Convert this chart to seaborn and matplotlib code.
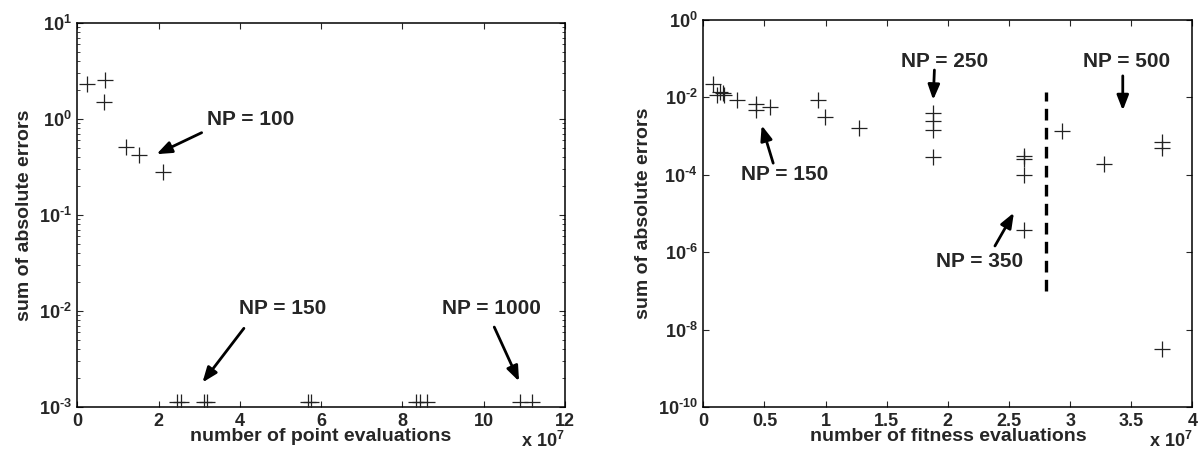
import numpy as np
import pandas as pd
import seaborn as sns
import matplotlib.pyplot as plt
from matplotlib.ticker import LogLocator, NullLocator, FixedLocator, FixedFormatter

# left panel: point evaluations (x in units of 1e7)
left_x = [0.25, 0.68, 0.65, 1.2, 1.53, 2.12,
          2.45, 2.54, 3.12, 3.18, 5.68, 5.74, 8.33, 8.43, 8.6, 10.89, 11.18]
left_y = [2.3, 2.55, 1.52, 0.51, 0.42, 0.28,
          1.13e-3, 1.13e-3, 1.13e-3, 1.13e-3, 1.13e-3, 1.13e-3,
          1.13e-3, 1.13e-3, 1.13e-3, 1.13e-3, 1.13e-3]

# right panel: fitness evaluations (x in units of 1e7)
right_x = [0.082, 0.109, 0.138, 0.164, 0.17, 0.273, 0.431, 0.431, 0.545, 0.94, 0.995, 1.27,
           1.876, 1.876, 1.876, 1.876,
           2.625, 2.625, 2.625, 2.625,
           2.93, 3.277, 3.75, 3.75, 3.75]
right_y = [0.022, 0.0115, 0.014, 0.013, 0.0118, 0.0086, 0.0068, 0.0046, 0.0057, 0.0086, 0.0032, 0.0016,
           0.0039, 0.0025, 0.00145, 2.9e-4,
           3.1e-4, 2.6e-4, 1.0e-4, 3.7e-6,
           1.35e-3, 1.87e-4, 7.2e-4, 4.8e-4, 3.1e-9]

# vertical dashed separator on the right panel
sep_x = [2.8, 2.8]
sep_y = [1e-7, 1.4e-2]

left_xticks = [0, 2, 4, 6, 8, 10, 12]
left_yticks = [1e-3, 1e-2, 1e-1, 1, 10]
left_ylabels = ["-3", "-2", "-1", "0", "1"]
right_xticks = [0, 0.5, 1, 1.5, 2, 2.5, 3, 3.5, 4]
right_xlabels = ["0", "0.5", "1", "1.5", "2", "2.5", "3", "3.5", "4"]
right_yticks = [1e-10, 1e-8, 1e-6, 1e-4, 1e-2, 1]
right_ylabels = ["-10", "-8", "-6", "-4", "-2", "0"]

sns.set_style("ticks")
plt.rcParams['font.family'] = ['Liberation Sans', 'DejaVu Sans']
plt.rcParams['font.weight'] = 'bold'
plt.rcParams['mathtext.fontset'] = 'custom'
plt.rcParams['mathtext.rm'] = 'Liberation Sans:bold'
plt.rcParams['mathtext.bf'] = 'Liberation Sans:bold'
plt.rcParams['mathtext.it'] = 'Liberation Sans:bold'
plt.rcParams['mathtext.default'] = 'bf'


def pow_labels(exps):
    return [r"$10^{\text{" + e + "}}$" for e in exps]


fig = plt.figure(figsize=(11.98, 4.59), dpi=100)
ax1 = fig.add_axes([0.0645, 0.1133, 0.4071, 0.8366])
ax2 = fig.add_axes([0.587, 0.1133, 0.4084, 0.8431])

df1 = pd.DataFrame({"x": left_x, "y": left_y})
df2 = pd.DataFrame({"x": right_x, "y": right_y})

for ax, df in [(ax1, df1), (ax2, df2)]:
    sns.scatterplot(data=df, x="x", y="y", ax=ax, marker="+", s=140,
                    color="#222222", linewidth=0.9, legend=False, zorder=3)
    ax.set_yscale("log")
    for sp in ax.spines.values():
        sp.set_visible(True)
        sp.set_linewidth(1.1)
        sp.set_color("black")
    ax.tick_params(direction="in", top=True, right=True, length=4, width=0.8,
                   labelsize=13, pad=4)
    ax.tick_params(which="minor", direction="in", left=True, right=True, length=2.5, width=0.6)
    ax.set_ylabel("sum of absolute errors", fontsize=14, fontweight="bold", labelpad=4)

# left panel axes
ax1.set_xlim(0, 12)
ax1.set_ylim(1e-3, 10)
ax1.set_xticks(left_xticks)
ax1.set_xticklabels([str(t) for t in left_xticks])
ax1.yaxis.set_major_locator(FixedLocator(left_yticks))
ax1.yaxis.set_major_formatter(FixedFormatter(pow_labels(left_ylabels)))
ax1.yaxis.set_minor_locator(LogLocator(base=10, subs=np.arange(2, 10)))
ax1.set_xlabel("number of point evaluations", fontsize=14, fontweight="bold", labelpad=-1)
ax1.text(1.0, -0.088, r"x 10$^{7}$", transform=ax1.transAxes, ha="right", va="center", fontsize=13)

# right panel axes
ax2.set_xlim(0, 4)
ax2.set_ylim(1e-10, 1)
ax2.set_xticks(right_xticks)
ax2.set_xticklabels(right_xlabels)
ax2.yaxis.set_major_locator(FixedLocator(right_yticks))
ax2.yaxis.set_major_formatter(FixedFormatter(pow_labels(right_ylabels)))
ax2.yaxis.set_minor_locator(NullLocator())
ax2.set_xlabel("number of fitness evaluations", fontsize=14, fontweight="bold", labelpad=-1)
ax2.text(1.0, -0.088, r"x 10$^{7}$", transform=ax2.transAxes, ha="right", va="center", fontsize=13)
ax2.plot(sep_x, sep_y, color="black", linestyle=(0, (3.5, 2.2)), linewidth=2.4, zorder=2)

arrow = dict(arrowstyle="-|>,head_length=0.9,head_width=0.35", lw=2, color="black",
             shrinkA=0, shrinkB=0)

# annotations, left
ax1.text(4.26, 0.98, "NP = 100", fontsize=15, fontweight="bold", ha="center", va="center")
ax1.annotate("", xy=(1.95, 0.43), xytext=(3.06, 0.72), arrowprops=arrow)
ax1.text(5.06, 0.0105, "NP = 150", fontsize=15, fontweight="bold", ha="center", va="center")
ax1.annotate("", xy=(3.08, 1.8e-3), xytext=(4.1, 0.0066), arrowprops=arrow)
ax1.text(10.18, 0.0105, "NP = 1000", fontsize=15, fontweight="bold", ha="center", va="center")
ax1.annotate("", xy=(10.87, 1.85e-3), xytext=(10.26, 0.0068), arrowprops=arrow)

# annotations, right
ax2.text(1.97, 0.083, "NP = 250", fontsize=15, fontweight="bold", ha="center", va="center")
ax2.annotate("", xy=(1.88, 0.0086), xytext=(1.89, 0.051), arrowprops=arrow)
ax2.text(3.46, 0.083, "NP = 500", fontsize=15, fontweight="bold", ha="center", va="center")
ax2.annotate("", xy=(3.43, 0.0046), xytext=(3.43, 0.036), arrowprops=arrow)
ax2.text(0.668, 1e-4, "NP = 150", fontsize=15, fontweight="bold", ha="center", va="center")
ax2.annotate("", xy=(0.478, 0.0019), xytext=(0.572, 2e-4), arrowprops=arrow)
ax2.text(2.26, 5.7e-7, "NP = 350", fontsize=15, fontweight="bold", ha="center", va="center")
ax2.annotate("", xy=(2.54, 1.05e-5), xytext=(2.385, 1.45e-6), arrowprops=arrow)

fig.savefig("out.png", dpi=100)
